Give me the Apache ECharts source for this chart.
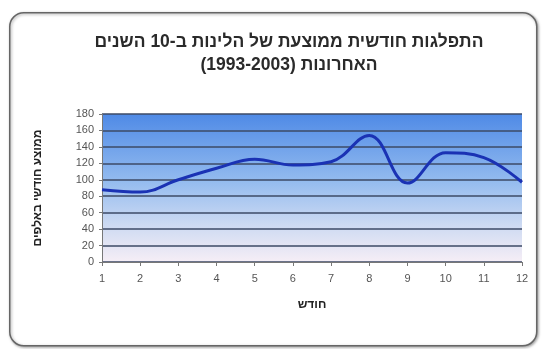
<!DOCTYPE html>
<html><head><meta charset="utf-8">
<script src="https://cdn.jsdelivr.net/npm/echarts@6/dist/echarts.min.js"></script>
<style>html,body{margin:0;padding:0;background:#fff}#c{width:544px;height:349px}</style>
</head><body><div id="c"></div>
<script>
const months = [1,2,3,4,5,6,7,8,9,10,11,12];
const avgStays = [88,85,100,114,125,118,122,154,96,133,127,97];
const titleLine1 = 'התפלגות חודשית ממוצעת של הלינות ב-10 השנים';
const titleLine2 = 'האחרונות (1993-2003)';
const yName = 'ממוצע חודשי באלפים';
const xName = 'חודש';

const chart = echarts.init(document.getElementById('c'));
const font = 'Liberation Sans, Arial, sans-serif';
chart.setOption({
  animation: false,
  graphic: [{
    type: 'rect', left: 9, top: 12, z: -10,
    shape: { width: 527, height: 333, r: 14 },
    style: { fill: '#fff', stroke: '#666', lineWidth: 1.5, shadowColor: 'rgba(0,0,0,0.35)', shadowBlur: 3, shadowOffsetX: 1, shadowOffsetY: 1 }
  }],
  title: {
    text: titleLine1 + '\n' + titleLine2,
    left: 284, top: 26, textAlign: 'center',
    textStyle: { fontFamily: font, fontSize: 17.5, fontWeight: 'bold', color: '#2a2a2a', lineHeight: 23 }
  },
  grid: {
    left: 102, right: 22, top: 114, bottom: 87, show: true, borderWidth: 0,
    backgroundColor: new echarts.graphic.LinearGradient(0, 0, 0, 1, [
      { offset: 0, color: '#4f8ae6' },
      { offset: 0.45, color: '#93bbef' },
      { offset: 0.75, color: '#cddaf2' },
      { offset: 1, color: '#f6eef6' }
    ])
  },
  xAxis: {
    type: 'value', min: 1, max: 12, interval: 1,
    name: xName, nameLocation: 'middle', nameGap: 37,
    nameTextStyle: { fontFamily: font, fontSize: 12, fontWeight: 'bold', color: '#222' },
    axisLine: { lineStyle: { color: '#777', width: 1.2 } },
    axisTick: { show: true, length: 4, lineStyle: { color: '#777' } },
    axisLabel: { fontFamily: font, fontSize: 11, color: '#555', margin: 11 },
    splitLine: { show: false }
  },
  yAxis: {
    type: 'value', min: 0, max: 180, interval: 20,
    name: yName, nameLocation: 'middle', nameGap: 58, nameRotate: 90,
    nameTextStyle: { fontFamily: font, fontSize: 12, fontWeight: 'bold', color: '#222' },
    axisLine: { show: true, lineStyle: { color: '#777' } },
    axisTick: { show: true, length: 3, lineStyle: { color: '#777' } },
    axisLabel: { fontFamily: font, fontSize: 11, color: '#555', margin: 8 },
    splitLine: { show: true, lineStyle: { color: '#3c4a66', width: 1.5 } }
  },
  series: [{
    type: 'line', smooth: 0.4, showSymbol: false,
    data: months.map((m, i) => [m, avgStays[i]]),
    lineStyle: { color: '#1a32b4', width: 3 }
  }]
});
</script></body></html>
